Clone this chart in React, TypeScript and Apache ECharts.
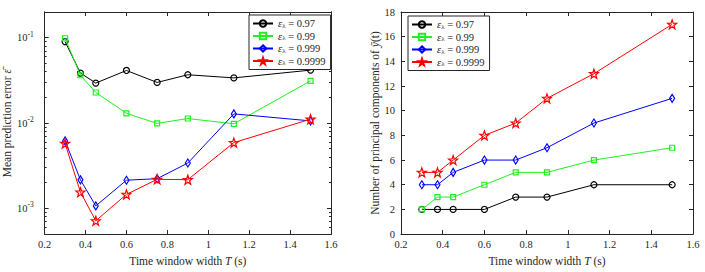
import React, { useEffect, useRef } from "react";
import * as echarts from "echarts";

const timeWindows = [0.3, 0.375, 0.45, 0.6, 0.75, 0.9, 1.125, 1.5];
const epsLabels = ["0.97", "0.99", "0.999", "0.9999"];

const errBlack = [0.09, 0.0385, 0.0294, 0.0413, 0.0299, 0.0368, 0.0338, 0.0417];
const errGreen = [0.0985, 0.0363, 0.0228, 0.013, 0.0099, 0.0113, 0.0098, 0.0312];
const errBlue = [0.00618, 0.00216, 0.00107, 0.00214, 0.00223, 0.0034, 0.0128, 0.0106];
const errRed = [0.00577, 0.00155, 0.000716, 0.00146, 0.00219, 0.00217, 0.0059, 0.0111];

const pcBlack = [2, 2, 2, 2, 3, 3, 4, 4];
const pcGreen = [2, 3, 3, 4, 5, 5, 6, 7];
const pcBlue = [4, 4, 5, 6, 6, 7, 9, 11];
const pcRed = [5, 5, 6, 8, 9, 11, 13, 17];

const xTickMin = 0.2;
const xTickMax = 1.6;
const xTickStep = 0.2;
const errMin = 5e-4;
const errMax = 0.2;
const errDecades = [-3, -2, -1];
const pcMin = 0;
const pcMax = 18;
const pcStep = 2;

const colors = ["#000000", "#22ee22", "#0000ff", "#ff0000"];
const STAR =
  "path://M0,-10 L2.35,-3.24 9.51,-3.09 3.8,1.24 5.88,8.09 0,4 -5.88,8.09 -3.8,1.24 -9.51,-3.09 -2.35,-3.24Z";
const symbols = ["circle", "rect", "diamond", STAR];
const symbolSizes: any[] = [6, 5, [5, 8], 9];

const AX = "#262626";
const FONT = "'Liberation Serif', 'DejaVu Serif', serif";

export default function App() {
  const ref = useRef<HTMLDivElement>(null);
  useEffect(() => {
    if (!ref.current) return;
    const chart = echarts.init(ref.current, null, { renderer: "svg" });
    const lmin = Math.log10(errMin);
    const lmax = Math.log10(errMax);
    const minor: number[] = [];
    for (let n = -4; n <= -1; n++) {
      for (let k = 2; k <= 9; k++) {
        const v = n + Math.log10(k);
        if (v > lmin + 1e-6 && v < lmax - 1e-6) minor.push(v);
      }
    }

    const xAx = (grid: number, pos: string, labels: boolean) => ({
      type: "value",
      gridIndex: grid,
      position: pos,
      min: xTickMin,
      max: xTickMax,
      interval: xTickStep,
      axisLine: { show: true, onZero: false, lineStyle: { color: AX, width: 1 } },
      axisTick: { show: true, inside: true, length: 4, lineStyle: { color: AX } },
      axisLabel: {
        show: labels,
        color: AX,
        fontFamily: FONT,
        fontSize: 10.5,
        margin: 5,
      },
      splitLine: { show: false },
      name: labels ? "Time window width {i|T} (s)" : "",
      nameLocation: "middle",
      nameGap: 19,
      nameTextStyle: {
        color: AX,
        fontFamily: FONT,
        fontSize: 11.5,
        rich: { i: { fontStyle: "italic", fontFamily: FONT, fontSize: 11.5, color: AX } },
      },
    });

    const errY = (pos: string, major: boolean, labels: boolean) => ({
      type: "value",
      gridIndex: 0,
      position: pos,
      min: lmin,
      max: lmax,
      axisLine: { show: true, onZero: false, lineStyle: { color: AX, width: 1 } },
      axisTick: {
        show: true,
        inside: true,
        length: major ? 4 : 2,
        customValues: major ? errDecades : minor,
        lineStyle: { color: AX },
      },
      axisLabel: {
        show: labels,
        customValues: errDecades,
        margin: 11,
        formatter: (v: number) => `{b|10}{s|${Math.round(v)}}`,
        rich: {
          b: { fontFamily: FONT, fontSize: 10.5, color: AX },
          s: { fontFamily: FONT, fontSize: 7.5, color: AX, padding: [0, 0, 7, 0] },
        },
      },
      splitLine: { show: false },
      name: labels ? "Mean prediction error {i|ε̄}" : "",
      nameLocation: "middle",
      nameGap: 28,
      nameTextStyle: {
        color: AX,
        fontFamily: FONT,
        fontSize: 11.5,
        rich: { i: { fontStyle: "italic", fontFamily: FONT, fontSize: 11.5, color: AX } },
      },
    });

    const pcY = (pos: string, labels: boolean) => ({
      type: "value",
      gridIndex: 1,
      position: pos,
      min: pcMin,
      max: pcMax,
      interval: pcStep,
      axisLine: { show: true, onZero: false, lineStyle: { color: AX, width: 1 } },
      axisTick: { show: true, inside: true, length: 4, lineStyle: { color: AX } },
      axisLabel: { show: labels, color: AX, fontFamily: FONT, fontSize: 10.5, margin: 6 },
      splitLine: { show: false },
      name: labels ? "Number of principal components of {i|ȳ}(t)" : "",
      nameLocation: "middle",
      nameGap: 20,
      nameTextStyle: {
        color: AX,
        fontFamily: FONT,
        fontSize: 11.5,
        rich: { i: { fontStyle: "italic", fontFamily: FONT, fontSize: 11.5, color: AX } },
      },
    });

    const errSets = [errBlack, errGreen, errBlue, errRed];
    const pcSets = [pcBlack, pcGreen, pcBlue, pcRed];

    const mkSeries = (prefix: string, sets: number[][], xi: number, yi: number, tf: (v: number) => number) =>
      sets.map((vals, i) => ({
        type: "line",
        name: prefix + epsLabels[i],
        xAxisIndex: xi,
        yAxisIndex: yi,
        data: vals.map((v, j) => [timeWindows[j], tf(v)]),
        symbol: symbols[i],
        symbolSize: symbolSizes[i],
        showAllSymbol: true,
        color: colors[i],
        lineStyle: { color: colors[i], width: 1 },
        itemStyle: { color: "rgba(255,255,255,0)", borderColor: colors[i], borderWidth: 1.2 },
        z: 2 + i,
      }));

    const legendCfg = (prefix: string, left: number, top: number) => ({
      left,
      top,
      orient: "vertical",
      data: epsLabels.map((e) => prefix + e),
      backgroundColor: "#ffffff",
      borderColor: AX,
      borderWidth: 1,
      borderRadius: 0,
      padding: [3, 5, 3, 3],
      itemWidth: 20,
      itemHeight: 8,
      itemGap: 1.5,
      itemStyle: { color: "rgba(255,255,255,0)" },
      formatter: (name: string) => `{e|ε}{s|λ}{n| = ${name.slice(1)}}`,
      textStyle: {
        fontFamily: FONT,
        fontSize: 10.5,
        color: AX,
        rich: {
          e: { fontFamily: FONT, fontStyle: "italic", fontSize: 10.5, color: AX },
          s: { fontFamily: FONT, fontSize: 7, color: AX, padding: [4, 0, 0, 0] },
          n: { fontFamily: FONT, fontSize: 10.5, color: AX },
        },
      },
    });

    chart.setOption({
      animation: false,
      backgroundColor: "#ffffff",
      grid: [
        { left: 41, top: 12, width: 290, height: 228, containLabel: false },
        { left: 401, top: 12, width: 292, height: 228, containLabel: false },
      ],
      xAxis: [xAx(0, "bottom", true), xAx(0, "top", false), xAx(1, "bottom", true), xAx(1, "top", false)],
      yAxis: [
        errY("left", true, true),
        errY("left", false, false),
        errY("right", true, false),
        errY("right", false, false),
        pcY("left", true),
        pcY("right", false),
      ],
      legend: [legendCfg("L", 249, 15), legendCfg("R", 408, 16)],
      series: [
        ...mkSeries("L", errSets, 0, 0, (v) => Math.log10(v)),
        ...mkSeries("R", pcSets, 2, 4, (v) => v),
      ],
    });
    return () => chart.dispose();
  }, []);
  return <div ref={ref} style={{ position: "fixed", left: 0, top: 0, width: 705, height: 272 }} />;
}
